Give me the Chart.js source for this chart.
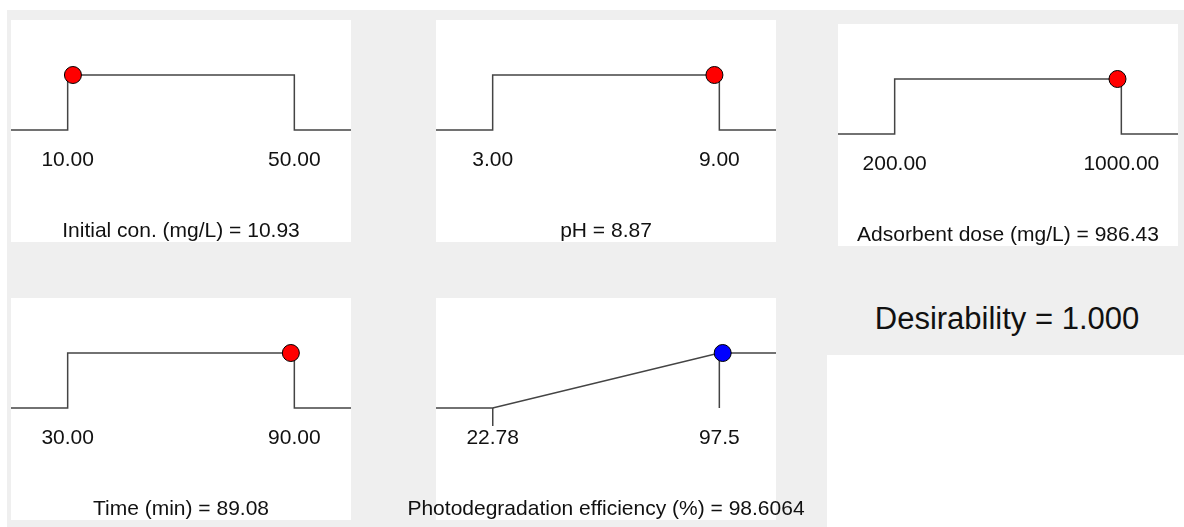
<!DOCTYPE html>
<html>
<head>
<meta charset="utf-8">
<script src="https://cdn.jsdelivr.net/npm/chart.js@4.4.1/dist/chart.umd.min.js"></script>
<style>
html,body{margin:0;padding:0;background:#fff;width:1184px;height:527px;overflow:hidden;font-family:"Liberation Sans",Arial,sans-serif;}
#bg{position:absolute;left:7px;top:10px;width:1177px;height:517px;background:#efefef;}
.panel{position:absolute;background:#fff;}
canvas{position:absolute;}
#whiteBox{position:absolute;left:827px;top:355px;width:357px;height:172px;background:#fff;}
#des{position:absolute;left:827px;top:300px;width:360px;text-align:center;font-size:31px;line-height:37px;color:#111;white-space:nowrap;}
</style>
</head>
<body>
<div id="bg"></div>
<div id="whiteBox"></div>
<div id="des"></div>
<script>
// ---- data ----
const factorNames = ['Initial con. (mg/L)', 'pH', 'Adsorbent dose (mg/L)', 'Time (min)'];
const factorLow = [10, 3, 200, 30];
const factorHigh = [50, 9, 1000, 90];
const factorOptimum = [10.93, 8.87, 986.43, 89.08];
const factorTickLabels = [['10.00', '50.00'], ['3.00', '9.00'], ['200.00', '1000.00'], ['30.00', '90.00']];
const responseName = 'Photodegradation efficiency (%)';
const responseLow = 22.78;
const responseHigh = 97.5;
const responsePredicted = 98.6064;
const responseTickLabels = ['22.78', '97.5'];
const desirabilityValue = 1.000;

// ---- layout ----
const panelBoxes = [
  {x: 11, y: 20}, {x: 436, y: 20}, {x: 838, y: 24},
  {x: 11, y: 298}, {x: 436, y: 298}
];
const PW = 340, PH = 222, M = 60, AREA_H = 110, FS = 21, TITLE_H = 22;
const FONT = '"Liberation Sans", Arial, sans-serif';
const TEXT = '#111';
const LINE = '#444';

document.getElementById('des').textContent = 'Desirability = ' + desirabilityValue.toFixed(3);

function makePanel(box, lo, hi, tickLabels, titleText, markerX, markerColor, rampData, extraSets, tickVisible) {
  const span = hi - lo;
  const xmin = lo - 0.25 * span, xmax = hi + 0.25 * span;
  const p = document.createElement('div');
  p.className = 'panel';
  p.style.left = box.x + 'px'; p.style.top = box.y + 'px';
  p.style.width = PW + 'px'; p.style.height = PH + 'px';
  document.body.appendChild(p);
  const c = document.createElement('canvas');
  c.width = PW + 2 * M; c.height = PH;
  c.style.left = (box.x - M) + 'px'; c.style.top = box.y + 'px';
  c.style.width = (PW + 2 * M) + 'px'; c.style.height = PH + 'px';
  document.body.appendChild(c);
  const datasets = [
    {data: [{x: markerX, y: 1}], showLine: false, pointRadius: 8.5, pointBackgroundColor: markerColor,
     pointBorderColor: '#000', pointBorderWidth: 1, clip: false},
    {data: rampData(xmin, xmax), borderColor: LINE, borderWidth: 1.5, pointRadius: 0, fill: false, tension: 0, clip: false}
  ].concat(extraSets.map(d => ({data: d, borderColor: LINE, borderWidth: 1.5, pointRadius: 0, fill: false, clip: false})));
  const spacer = pos => ({position: pos, display: true, min: 0, max: 2,
    afterFit: s => { s.width = M; }, ticks: {display: false}, grid: {display: false}, border: {display: false}});
  new Chart(c, {
    type: 'line',
    data: {datasets},
    options: {
      responsive: false, animation: false, devicePixelRatio: 1, events: [],
      layout: {padding: 0, autoPadding: false},
      plugins: {
        legend: {display: false}, tooltip: {enabled: false},
        title: {display: true, position: 'bottom', text: titleText, color: TEXT,
                font: {family: FONT, size: FS, weight: 'normal', lineHeight: 1}, padding: {top: 1, bottom: 0}}
      },
      scales: {
        x: {type: 'linear', position: 'bottom', min: xmin, max: xmax, offset: false,
            afterBuildTicks: s => { s.ticks = [{value: lo}, {value: hi}]; },
            afterFit: s => { s.height = PH - AREA_H - TITLE_H; },
            ticks: {autoSkip: false, maxRotation: 0, padding: 2, color: TEXT,
                    font: {family: FONT, size: FS, lineHeight: 1}, callback: (v, i) => tickLabels[i]},
            grid: {display: true, drawOnChartArea: false, drawTicks: true, tickLength: 18, lineWidth: 1.5,
                   color: ctx => (tickVisible[ctx.index] ? LINE : 'rgba(0,0,0,0)')},
            border: {display: false}},
        y: spacer('left'),
        y2: spacer('right')
      }
    }
  });
}

for (let i = 0; i < factorNames.length; i++) {
  const lo = factorLow[i], hi = factorHigh[i];
  makePanel(panelBoxes[i], lo, hi, factorTickLabels[i],
    factorNames[i] + ' = ' + factorOptimum[i].toFixed(2), factorOptimum[i], '#ff0000',
    (a, b) => [{x: a, y: 0}, {x: lo, y: 0}, {x: lo, y: 1}, {x: hi, y: 1}, {x: hi, y: 0}, {x: b, y: 0}],
    [], [false, false]);
}
makePanel(panelBoxes[4], responseLow, responseHigh, responseTickLabels,
  responseName + ' = ' + responsePredicted.toFixed(4), responsePredicted, '#0000ff',
  (a, b) => [{x: a, y: 0}, {x: responseLow, y: 0}, {x: responseHigh, y: 1}, {x: b, y: 1}],
  [[{x: responseHigh, y: 1}, {x: responseHigh, y: 0}]], [true, false]);
</script>
</body>
</html>
